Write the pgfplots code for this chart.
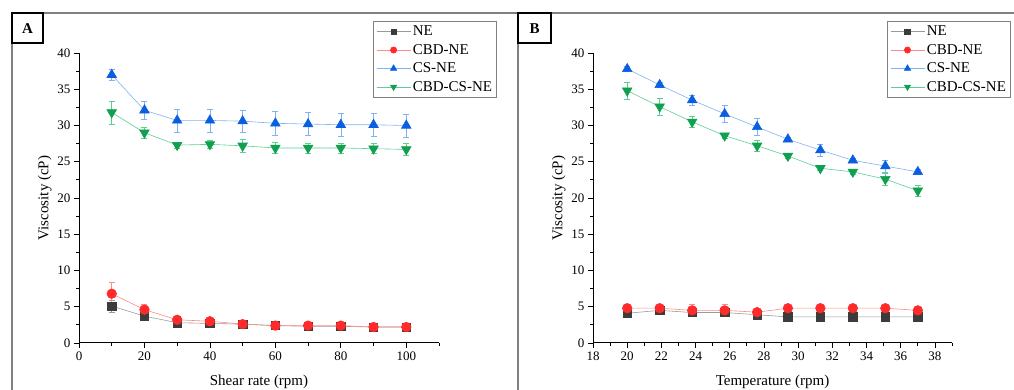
\documentclass[border=0pt]{standalone}
\usepackage{fontspec}
\setmainfont{Liberation Serif}
\usepackage{pgfplots}
\usepackage{pgfplotstable}
\pgfplotsset{compat=1.18}
\definecolor{neM}{HTML}{3C3C3C}
\definecolor{neL}{HTML}{9A9A9A}
\definecolor{cbdM}{HTML}{FF2A2A}
\definecolor{cbdL}{HTML}{FF8A8A}
\definecolor{csM}{HTML}{0A5FE0}
\definecolor{csL}{HTML}{7FB2F2}
\definecolor{ccM}{HTML}{10A050}
\definecolor{ccL}{HTML}{5CCF95}

\pgfplotstableread{
x NE eNE CBD eCBD CS eCS CC eCC
10 5.1 0.8 6.8 1.6 37.0 0.8 31.8 1.6
20 3.7 0.3 4.6 0.8 32.1 1.2 29.0 0.7
30 2.8 0.2 3.2 0.3 30.7 1.6 27.3 0.4
40 2.7 0.2 3.0 0.3 30.7 1.6 27.4 0.5
50 2.6 0.2 2.6 0.2 30.6 1.5 27.2 0.9
60 2.4 0.2 2.4 0.2 30.3 1.6 26.9 0.8
70 2.3 0.2 2.4 0.2 30.2 1.6 26.9 0.7
80 2.3 0.2 2.4 0.2 30.1 1.6 26.9 0.7
90 2.2 0.2 2.2 0.2 30.1 1.6 26.8 0.7
100 2.2 0.2 2.2 0.2 30.0 1.6 26.7 0.8
}\dataA

\pgfplotstableread{
x NE eNE CBD eCBD CS eCS CC eCC
20 4.1 0.2 4.8 0.2 37.8 0.3 34.8 1.2
21.9 4.5 0.2 4.8 0.3 35.6 0.3 32.6 1.2
23.8 4.2 0.3 4.5 0.8 33.5 0.7 30.5 0.7
25.7 4.2 0.3 4.5 0.8 31.6 1.2 28.6 0.3
27.6 3.9 0.2 4.25 0.3 29.8 1.2 27.2 0.7
29.4 3.6 0.1 4.8 0.2 28.1 0.3 25.8 0.3
31.3 3.6 0.1 4.8 0.2 26.6 0.8 24.1 0.3
33.2 3.6 0.1 4.8 0.2 25.2 0.3 23.6 0.3
35.1 3.6 0.1 4.8 0.2 24.4 0.8 22.6 0.8
37.0 3.6 0.1 4.5 0.2 23.6 0.3 21.0 0.8
}\dataB

\pgfplotsset{
  myaxis/.style={
    scale only axis, width=360pt, height=290pt,
    axis lines=left,
    x axis line style={-, line width=1pt},
    y axis line style={-, line width=1pt},
    ymin=0, ymax=40, ytick={0,5,...,40}, minor ytick={2.5,7.5,...,37.5},
    tick align=outside,
    tick style={black, line width=0.8pt},
    major tick length=5pt, minor tick length=3pt,
    ylabel={Viscosity (cP)},
    ylabel style={at={(axis description cs:-0.095,0.5)}, anchor=center},
    xlabel style={at={(axis description cs:0.5,-0.134)}, anchor=center},
    tick label style={font=\fontsize{13}{15}\selectfont},
    label style={font=\fontsize{15}{18}\selectfont},
    /pgf/number format/assume math mode=true,
    legend style={draw=gray, line width=0.8pt, font=\fontsize{15}{18}\selectfont,
      anchor=north east, row sep=3pt, inner sep=2.5pt},
    legend cell align=left,
    legend image code/.code={\draw[mark repeat=2,mark phase=2,line width=0.6pt,
      /tikz/every mark/.append style={scale=0.65}]
      plot coordinates {(0pt,0pt) (17pt,0pt) (34pt,0pt)};},
    clip=false,
    error bars/error bar style={line width=0.6pt},
    error bars/error mark options={rotate=90, mark size=3pt, line width=0.6pt},
  },
  sNE/.style={color=neL, line width=0.6pt, mark=square*, mark size=4.2pt,
    mark options={fill=neM, draw=neM}},
  sCBD/.style={color=cbdL, line width=0.6pt, mark=*, mark size=4.8pt,
    mark options={fill=cbdM, draw=cbdM}},
  sCS/.style={color=csL, line width=0.6pt, mark=triangle*, mark size=5.5pt,
    mark options={fill=csM, draw=csM}},
  sCC/.style={color=ccL, line width=0.6pt, mark=triangle*, mark size=5.5pt,
    mark options={fill=ccM, draw=ccM, rotate=180}},
}

\begin{document}
\begin{tikzpicture}
\useasboundingbox (0pt,0pt) rectangle (1014pt,390pt);
% panel frames
\draw[gray, line width=2pt] (12pt,-5pt) -- (12pt,377pt) -- (1020pt,377pt);
\draw[gray, line width=2pt] (518pt,377pt) -- (518pt,-5pt);
\draw[black, line width=1.2pt, fill=white] (12pt,377pt) rectangle (43pt,347pt);
\node[font=\fontsize{15}{18}\selectfont\bfseries] at (27.5pt,361pt) {A};
\draw[black, line width=1.2pt, fill=white] (518pt,377pt) rectangle (551pt,347pt);
\node[font=\fontsize{15}{18}\selectfont\bfseries] at (534.5pt,361pt) {B};

\begin{axis}[myaxis, at={(79pt,47pt)}, anchor=south west,
  xmin=0, xmax=110, xtick={0,20,...,100}, minor xtick={10,30,...,110},
  xlabel={Shear rate (rpm)},
  legend style={at={(axis description cs:1.161,1.110)}}]
\addplot+[sNE, error bars/.cd, y dir=both, y explicit] table[x=x, y=NE, y error=eNE] {\dataA};
\addlegendentry{NE}
\addplot+[sCBD, error bars/.cd, y dir=both, y explicit] table[x=x, y=CBD, y error=eCBD] {\dataA};
\addlegendentry{CBD-NE}
\addplot+[sCS, error bars/.cd, y dir=both, y explicit] table[x=x, y=CS, y error=eCS] {\dataA};
\addlegendentry{CS-NE}
\addplot+[sCC, error bars/.cd, y dir=both, y explicit] table[x=x, y=CC, y error=eCC] {\dataA};
\addlegendentry{CBD-CS-NE}
\end{axis}

\begin{axis}[myaxis, at={(593pt,47pt)}, anchor=south west, width=359pt,
  xmin=18, xmax=39, xtick={18,20,...,38}, minor xtick={19,21,...,39},
  xlabel={Temperature (rpm)},
  legend style={at={(axis description cs:1.164,1.110)}}]
\addplot+[sNE, error bars/.cd, y dir=both, y explicit] table[x=x, y=NE, y error=eNE] {\dataB};
\addlegendentry{NE}
\addplot+[sCBD, error bars/.cd, y dir=both, y explicit] table[x=x, y=CBD, y error=eCBD] {\dataB};
\addlegendentry{CBD-NE}
\addplot+[sCS, error bars/.cd, y dir=both, y explicit] table[x=x, y=CS, y error=eCS] {\dataB};
\addlegendentry{CS-NE}
\addplot+[sCC, error bars/.cd, y dir=both, y explicit] table[x=x, y=CC, y error=eCC] {\dataB};
\addlegendentry{CBD-CS-NE}
\end{axis}
\end{tikzpicture}
\end{document}
